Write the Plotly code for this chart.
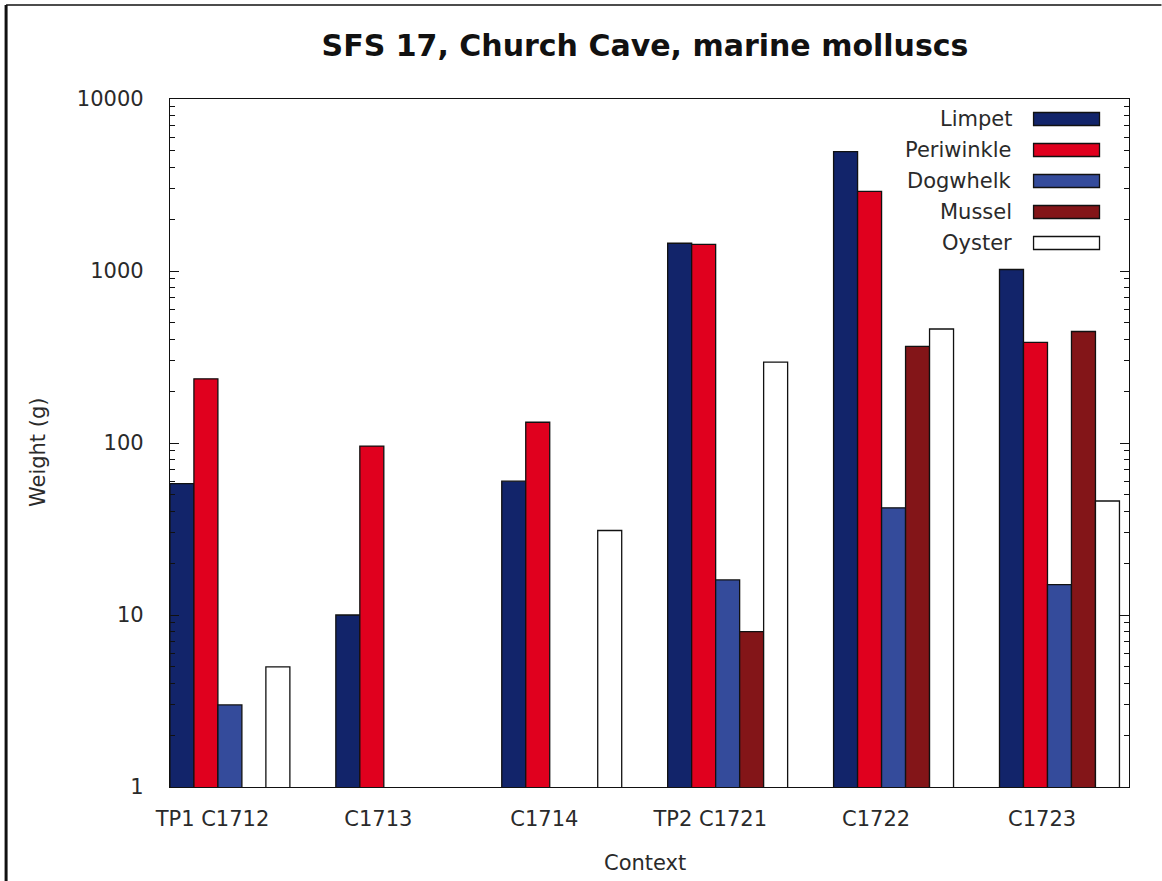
import plotly.graph_objects as go

# ---- data ----
categories = ["TP1 C1712", "C1713", "C1714", "TP2 C1721", "C1722", "C1723"]
series_names = ["Limpet", "Periwinkle", "Dogwhelk", "Mussel", "Oyster"]
limpet = [58, 10, 60, 1450, 4950, 1020]
periwinkle = [236, 96, 132, 1430, 2900, 385]
dogwhelk = [3, None, None, 16, 42, 15]
mussel = [None, None, None, 8, 365, 445]
oyster = [5, None, 31, 295, 460, 46]
y_tick_values = [1, 10, 100, 1000, 10000]
y_tick_labels = ["1", "10", "100", "1000", "10000"]

# ---- style ----
colors = ["#12246a", "#e0001e", "#344b9b", "#831518", "#ffffff"]
W, H = 1162, 881
L, R, T, B = 170, 1129.5, 99, 787
FONT = "DejaVu Sans"
TXT = "#2a2a2a"
FS = 21

series = [limpet, periwinkle, dogwhelk, mussel, oyster]
x_pos = list(range(len(categories)))

fig = go.Figure()
for name, vals, col in zip(series_names, series, colors):
    fig.add_trace(go.Bar(
        x=x_pos, y=vals, name=name, marker_color=col,
        marker_line_color="#111111", marker_line_width=1.3,
        showlegend=False,
    ))

def px_to_paper_x(px):
    return (px - L) / (R - L)

def px_to_paper_y(py):
    return (B - py) / (B - T)

shapes = []
annotations = []
# custom legend (text right-aligned, swatch to the right)
row_y = [119, 150, 181, 212, 243]
for name, col, ry in zip(series_names, colors, row_y):
    annotations.append(dict(
        xref="paper", yref="paper", x=px_to_paper_x(1014), y=px_to_paper_y(ry),
        xanchor="right", yanchor="middle", text=name, showarrow=False,
        font=dict(family=FONT, size=FS, color=TXT),
    ))
    shapes.append(dict(
        type="rect", xref="paper", yref="paper",
        x0=px_to_paper_x(1034), x1=px_to_paper_x(1100),
        y0=px_to_paper_y(ry - 6.5), y1=px_to_paper_y(ry + 6.5),
        fillcolor=col, line=dict(color="#111111", width=1.3),
    ))

# outer frame lines (left and top)
shapes.append(dict(type="line", xref="paper", yref="paper",
                   x0=px_to_paper_x(6), x1=px_to_paper_x(1162),
                   y0=px_to_paper_y(5), y1=px_to_paper_y(5),
                   line=dict(color="#111111", width=1.5)))
shapes.append(dict(type="line", xref="paper", yref="paper",
                   x0=px_to_paper_x(6), x1=px_to_paper_x(6),
                   y0=px_to_paper_y(5), y1=px_to_paper_y(881),
                   line=dict(color="#111111", width=3)))

# axis titles
annotations.append(dict(
    xref="paper", yref="paper", x=px_to_paper_x(38), y=px_to_paper_y(452),
    xanchor="center", yanchor="middle", text="Weight (g)", textangle=-90,
    showarrow=False, font=dict(family=FONT, size=FS, color=TXT)))
annotations.append(dict(
    xref="paper", yref="paper", x=px_to_paper_x(645), y=px_to_paper_y(863),
    xanchor="center", yanchor="middle", text="Context",
    showarrow=False, font=dict(family=FONT, size=FS, color=TXT)))

minor_vals = [m * 10 ** d for d in range(4) for m in range(2, 10)]

fig.update_layout(
    width=W, height=H,
    margin=dict(l=L, r=W - R, t=T, b=H - B, autoexpand=False),
    paper_bgcolor="white", plot_bgcolor="white",
    barmode="group", bargap=0.277, bargroupgap=0,
    title=dict(text="<b>SFS 17, Church Cave, marine molluscs</b>",
               x=645 / W, y=1 - 45 / H, xanchor="center", yanchor="middle",
               xref="container", yref="container",
               font=dict(family=FONT, size=30, color="#111111")),
    shapes=shapes, annotations=annotations,
    xaxis=dict(
        range=[-0.361, 5.419], tickmode="array",
        tickvals=[i - 0.105 for i in x_pos], ticktext=categories,
        ticks="", showline=True, linecolor="#111111", linewidth=1.3,
        mirror=True, showgrid=False, zeroline=False,
        tickfont=dict(family=FONT, size=FS, color=TXT),
        ticklabelstandoff=13,
    ),
    yaxis=dict(
        type="log", range=[0, 4], tickmode="array",
        tickvals=y_tick_values, ticktext=y_tick_labels,
        ticks="inside", ticklen=9, tickcolor="#111111", tickwidth=1.2,
        showline=True, linecolor="#111111", linewidth=1.3,
        mirror="ticks", showgrid=False, zeroline=False,
        tickfont=dict(family=FONT, size=FS, color=TXT),
        ticklabelstandoff=21,
        minor=dict(tickmode="array", tickvals=minor_vals, ticks="inside",
                   ticklen=5, tickcolor="#111111", tickwidth=1.2, showgrid=False),
    ),
)

fig.write_html("out.html",
               config={"displayModeBar": False},
               post_script="document.body.style.margin='0';document.body.style.overflow='hidden';")
